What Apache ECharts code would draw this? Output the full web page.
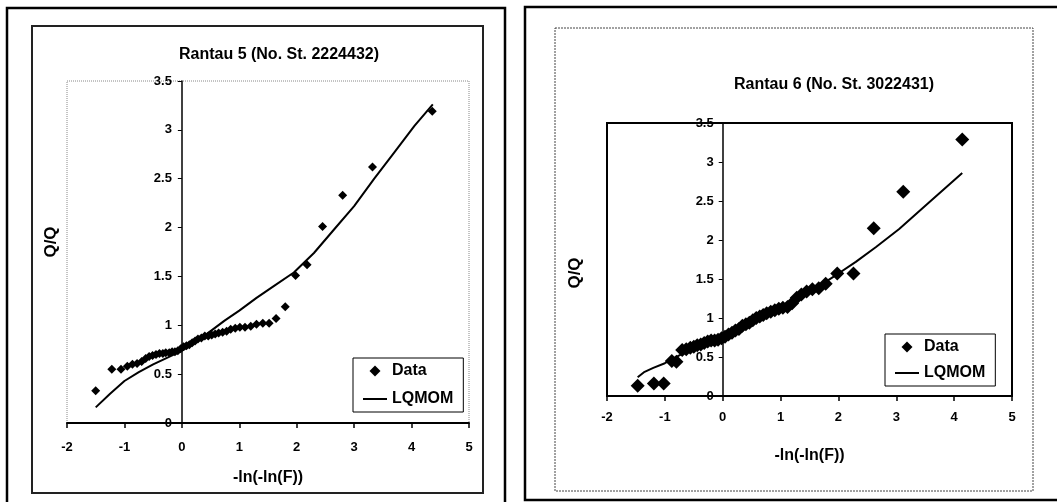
<!DOCTYPE html>
<html>
<head>
<meta charset="utf-8">
<script src="https://cdn.jsdelivr.net/npm/echarts@6/dist/echarts.min.js"></script>
<style>
    html, body { margin: 0; padding: 0; background: #fff; }
    #chart { width: 1057px; height: 502px; }
</style>
</head>
<body>
<div id="chart"></div>
<script>
// 图表数据
const titles = ['Rantau 5 (No. St. 2224432)', 'Rantau 6 (No. St. 3022431)'];
const xTicks = [-2, -1, 0, 1, 2, 3, 4, 5];
const yTicks = [0, 0.5, 1, 1.5, 2, 2.5, 3, 3.5];

// Rantau 5: [-ln(-ln(F)), Q/Q]
const rantau5Data = [
    [-1.50, 0.33], [-1.22, 0.55], [-1.06, 0.55], [-0.95, 0.58], [-0.86, 0.60], [-0.78, 0.61],
    [-0.70, 0.63], [-0.63, 0.66], [-0.57, 0.68], [-0.51, 0.69], [-0.45, 0.70], [-0.39, 0.71],
    [-0.33, 0.71], [-0.28, 0.72], [-0.22, 0.72], [-0.17, 0.73], [-0.12, 0.73], [-0.07, 0.74],
    [-0.02, 0.76], [0.03, 0.78], [0.08, 0.79], [0.13, 0.80], [0.18, 0.82], [0.23, 0.84],
    [0.28, 0.86], [0.34, 0.87], [0.40, 0.89], [0.46, 0.89], [0.52, 0.90], [0.58, 0.91],
    [0.64, 0.92], [0.71, 0.93], [0.78, 0.94], [0.85, 0.96], [0.93, 0.97], [1.01, 0.98],
    [1.10, 0.98], [1.20, 0.99], [1.30, 1.01], [1.41, 1.02], [1.52, 1.02], [1.64, 1.07],
    [1.80, 1.19], [1.98, 1.51], [2.18, 1.62], [2.45, 2.01], [2.80, 2.33], [3.32, 2.62],
    [4.36, 3.19]
];
const rantau5Lqmom = [
    [-1.50, 0.16], [-1.25, 0.30], [-1.00, 0.43], [-0.75, 0.52], [-0.50, 0.60], [-0.25, 0.67],
    [0.00, 0.74], [0.25, 0.83], [0.50, 0.94], [0.75, 1.05], [1.00, 1.15], [1.30, 1.28],
    [1.60, 1.40], [1.95, 1.54], [2.30, 1.74], [2.65, 1.98], [3.00, 2.22], [3.35, 2.50],
    [3.70, 2.77], [4.05, 3.04], [4.37, 3.26]
];

// Rantau 6
const rantau6Data = [
    [-1.47, 0.13], [-1.19, 0.16], [-1.02, 0.16], [-0.88, 0.45], [-0.80, 0.44], [-0.70, 0.59],
    [-0.63, 0.60], [-0.56, 0.62], [-0.50, 0.63], [-0.44, 0.65], [-0.38, 0.66], [-0.32, 0.68],
    [-0.26, 0.70], [-0.20, 0.71], [-0.14, 0.71], [-0.08, 0.72], [-0.02, 0.74], [0.04, 0.76],
    [0.10, 0.79], [0.16, 0.81], [0.22, 0.84], [0.28, 0.86], [0.34, 0.90], [0.40, 0.92],
    [0.46, 0.94], [0.52, 0.97], [0.58, 1.00], [0.64, 1.02], [0.70, 1.04], [0.76, 1.06],
    [0.83, 1.08], [0.90, 1.10], [0.97, 1.12], [1.04, 1.13], [1.12, 1.14], [1.20, 1.19],
    [1.28, 1.26], [1.36, 1.30], [1.45, 1.34], [1.55, 1.37], [1.66, 1.38], [1.78, 1.44],
    [1.98, 1.57], [2.26, 1.57], [2.61, 2.15], [3.12, 2.62], [4.14, 3.29]
];
const rantau6Lqmom = [
    [-1.47, 0.24], [-1.35, 0.31], [-1.20, 0.36], [-1.00, 0.42], [-0.75, 0.52], [-0.50, 0.61],
    [-0.25, 0.68], [0.00, 0.75], [0.25, 0.85], [0.50, 0.95], [0.75, 1.03], [1.00, 1.11],
    [1.25, 1.22], [1.50, 1.34], [1.75, 1.45], [2.00, 1.57], [2.30, 1.72], [2.65, 1.91],
    [3.05, 2.14], [3.55, 2.47], [4.14, 2.86]
];

const FONT = '"Liberation Sans", Arial, sans-serif';
const boldText = (size) => ({ fontFamily: FONT, fontWeight: 'bold', fontSize: size, color: '#000' });

// 绘图区位置
const grids = [
    { left: 67, top: 81, width: 402, height: 342 },
    { left: 607, top: 123, width: 405, height: 273 }
];
const xSpan = xTicks[xTicks.length - 1] - xTicks[0];

// 坐标轴
function makeXAxis(gridIndex, labelMargin, nameGap) {
    return {
        type: 'value', gridIndex,
        min: xTicks[0], max: xTicks[xTicks.length - 1], interval: 1,
        name: '-ln(-ln(F))', nameLocation: 'middle', nameGap,
        nameTextStyle: boldText(16),
        axisLine: { onZero: false, lineStyle: { color: '#000', width: 2 } },
        axisTick: { show: true, length: 5, lineStyle: { color: '#000', width: 1.5 } },
        axisLabel: Object.assign(boldText(13), { margin: labelMargin }),
        splitLine: { show: false }
    };
}
function makeYAxis(gridIndex, labelMargin) {
    // y 轴放在 x = 0 处（连同刻度和标签一起）
    const shift = grids[gridIndex].width * (0 - xTicks[0]) / xSpan;
    return {
        type: 'value', gridIndex, position: 'left', offset: -shift,
        min: yTicks[0], max: yTicks[yTicks.length - 1], interval: 0.5,
        axisLine: { show: true, onZero: false, lineStyle: { color: '#000', width: 1.5 } },
        axisTick: { show: true, length: 4, lineStyle: { color: '#000' } },
        axisLabel: Object.assign(boldText(13), { margin: labelMargin }),
        splitLine: { show: false }
    };
}
function makeLegend(left, top, gap) {
    return {
        left, top, orient: 'vertical',
        data: [
            { name: 'Data', icon: 'path://M5,0 L10,5 L5,10 L0,5 Z' },
            { name: 'LQMOM', icon: 'path://M0,0 L24,0 L24,2 L0,2 Z' }
        ],
        selectedMode: false,
        symbolKeepAspect: true,
        backgroundColor: '#fff',
        borderColor: '#000', borderWidth: 1,
        padding: [5, 10, 5, 10],
        itemWidth: 24, itemHeight: 11, itemGap: gap,
        textStyle: Object.assign(boldText(16), { lineHeight: 16 })
    };
}

const chart = echarts.init(document.getElementById('chart'));
chart.setOption({
    animation: false,
    backgroundColor: '#fff',
    title: [
        { text: titles[0], left: 279, top: 47, textAlign: 'center', padding: 0, textStyle: boldText(16) },
        { text: titles[1], left: 834, top: 77, textAlign: 'center', padding: 0, textStyle: boldText(16) }
    ],
    grid: [
        Object.assign({ show: true, borderColor: '#888', borderWidth: 1, borderType: 'dotted' }, grids[0]),
        Object.assign({ show: true, borderColor: '#000', borderWidth: 2 }, grids[1])
    ],
    xAxis: [makeXAxis(0, 18, 47), makeXAxis(1, 15, 52)],
    yAxis: [makeYAxis(0, 10), makeYAxis(1, 9)],
    legend: [makeLegend(353, 358, 12), makeLegend(885, 334, 10)],
    graphic: [
        // 外框
        { type: 'rect', shape: { x: 7, y: 8, width: 498, height: 510 }, style: { fill: null, stroke: '#000', lineWidth: 2.5 }, silent: true },
        { type: 'rect', shape: { x: 32, y: 26, width: 451, height: 467 }, style: { fill: null, stroke: '#222', lineWidth: 2 }, silent: true },
        { type: 'rect', shape: { x: 525, y: 7, width: 560, height: 493 }, style: { fill: null, stroke: '#000', lineWidth: 2.5 }, silent: true },
        { type: 'rect', shape: { x: 555, y: 28, width: 478, height: 463 }, style: { fill: null, stroke: '#444', lineWidth: 1, lineDash: [2, 1] }, silent: true },
        // Y 轴名称
        { type: 'text', x: 51, y: 242, rotation: Math.PI / 2, style: { text: 'Q/Q', align: 'center', verticalAlign: 'middle', fill: '#000', font: 'bold 17px ' + FONT } },
        { type: 'text', x: 575, y: 273, rotation: Math.PI / 2, style: { text: 'Q/Q', align: 'center', verticalAlign: 'middle', fill: '#000', font: 'bold 17px ' + FONT } }
    ],
    series: [
        {
            name: 'Data', type: 'scatter', xAxisIndex: 0, yAxisIndex: 0,
            data: rantau5Data, symbol: 'diamond', symbolSize: 9,
            itemStyle: { color: '#000', opacity: 1 }
        },
        {
            name: 'LQMOM', type: 'line', xAxisIndex: 0, yAxisIndex: 0,
            data: rantau5Lqmom, showSymbol: false, symbol: 'none',
            lineStyle: { color: '#000', width: 2 }, itemStyle: { color: '#000' }
        },
        {
            name: 'Data', type: 'scatter', xAxisIndex: 1, yAxisIndex: 1,
            data: rantau6Data, symbol: 'diamond', symbolSize: 14,
            itemStyle: { color: '#000', opacity: 1 }
        },
        {
            name: 'LQMOM', type: 'line', xAxisIndex: 1, yAxisIndex: 1,
            data: rantau6Lqmom, showSymbol: false, symbol: 'none',
            lineStyle: { color: '#000', width: 2 }, itemStyle: { color: '#000' }
        }
    ]
});
</script>
</body>
</html>
